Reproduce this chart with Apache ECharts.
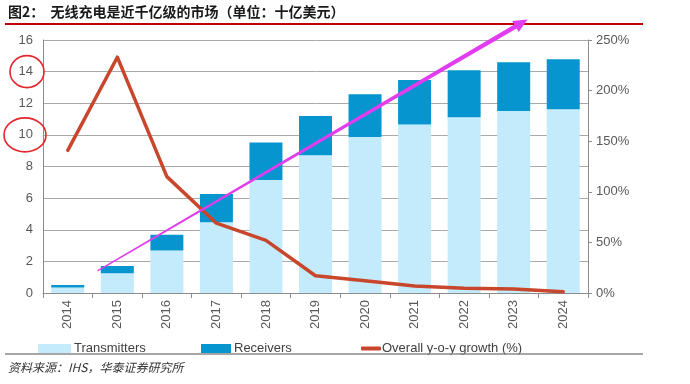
<!DOCTYPE html>
<html><head><meta charset="utf-8">
<script src="https://cdn.jsdelivr.net/npm/echarts@6/dist/echarts.min.js"></script>
<style>html,body{margin:0;padding:0;background:#fff}#c{width:690px;height:384px}</style>
</head><body><div id="c"></div>
<script>
const years = ['2014','2015','2016','2017','2018','2019','2020','2021','2022','2023','2024'];
const transmitters = [0.35,1.25,2.68,4.47,7.15,8.71,9.87,10.65,11.11,11.51,11.62];
const receivers = [0.16,0.46,1.01,1.79,2.36,2.49,2.70,2.82,2.98,3.08,3.16];
const growth = [141,233,115,69,52,17,12,7,4.6,4,1.3];
const seriesNames = ['Transmitters','Receivers','Overall y-o-y growth (%)'];
const titleText = '图2：  无线充电是近千亿级的市场（单位：十亿美元）';
const sourceText = '资料来源：IHS，华泰证券研究所';
// annotation anchors in data space: [category index, left-axis value]
const arrowFrom = [0.6, 1.4];
const arrowTo = [9.28, 17.3];
const circledTicks = [14, 10];

const FONT = 'Liberation Sans, Arial, sans-serif';
const chart = echarts.init(document.getElementById('c'));
const axisColor = '#8c8c8c';
const labelColor = '#595959';
const legendText = {fontFamily: FONT, fontSize: 13, color:'#404040'};

chart.setOption({
  animation: false,
  grid: {left: 43, right: 102, top: 40, bottom: 91, containLabel: false},
  legend: [
    {data:[{name: seriesNames[0], icon:'rect'}], left: 33, top: 337, itemWidth: 33, itemHeight: 9, itemGap: 0,
     textStyle: Object.assign({padding:[0,0,0,-2]}, legendText)},
    {data:[{name: seriesNames[1], icon:'rect'}], left: 196, top: 337, itemWidth: 30, itemHeight: 9, itemGap: 0,
     textStyle: Object.assign({padding:[0,0,0,-2]}, legendText)},
    {data:[{name: seriesNames[2], icon:'roundRect'}], left: 356, top: 337, itemWidth: 20, itemHeight: 4, itemGap: 0,
     itemStyle:{color:'#c8462b', borderWidth:0},
     textStyle: Object.assign({padding:[0,0,0,-4]}, legendText)}
  ],
  xAxis: {
    type: 'category', data: years,
    axisLine: {lineStyle:{color: axisColor, width: 1}},
    axisTick: {show: true, length: 5, lineStyle:{color: axisColor}},
    axisLabel: {rotate: 90, margin: 7, fontFamily: FONT, fontSize: 13, color: labelColor}
  },
  yAxis: [
    {type:'value', min:0, max:16, interval:2,
     axisLine:{show:true, lineStyle:{color: axisColor}},
     axisTick:{show:false},
     axisLabel:{margin: 10, fontFamily: FONT, fontSize: 13, color: labelColor},
     splitLine:{show:true, lineStyle:{color:'#a9a9a9', width:1}}},
    {type:'value', min:0, max:250, interval:50, position:'right',
     axisLine:{show:true, lineStyle:{color: axisColor}},
     axisTick:{show:true, length:4, inside:false, lineStyle:{color: axisColor}},
     axisLabel:{margin: 8, fontFamily: FONT, fontSize: 13, color: labelColor, formatter:'{value}%'},
     splitLine:{show:false}}
  ],
  series: [
    {name: seriesNames[0], type:'bar', stack:'t', data: transmitters, barWidth: 33,
     itemStyle:{color:'#c4ebfb'}},
    {name: seriesNames[1], type:'bar', stack:'t', data: receivers, barWidth: 33,
     itemStyle:{color:'#0795cf'}},
    {name: seriesNames[2], type:'line', yAxisIndex:1, data: growth, symbol:'none', showSymbol:false,
     lineStyle:{color:'#c8462b', width:3.5, cap:'round', join:'round'},
     itemStyle:{color:'#c8462b'}, z: 5}
  ]
});

function px(idx, val) {
  const i0 = Math.floor(idx), f = idx - i0;
  const a = chart.convertToPixel({xAxisIndex:0, yAxisIndex:0}, [i0, val]);
  const b = chart.convertToPixel({xAxisIndex:0, yAxisIndex:0}, [Math.min(i0+1, years.length-1), val]);
  const step = (i0+1 <= years.length-1) ? (b[0]-a[0]) : 0;
  return [a[0] + f*step, a[1]];
}

const p0 = px(arrowFrom[0], arrowFrom[1]);
const p1 = px(arrowTo[0], arrowTo[1]);
const dx = p1[0]-p0[0], dy = p1[1]-p0[1];
const L = Math.hypot(dx, dy);
const ux = dx/L, uy = dy/L, nx = -uy, ny = ux;
const headLen = 14, headW = 6.5;
const hb = [p1[0]-ux*headLen, p1[1]-uy*headLen];
const w0 = 0.6, w1 = 2.2;
const arrowPts = [
  [p0[0]+nx*w0, p0[1]+ny*w0],
  [hb[0]+nx*w1, hb[1]+ny*w1],
  [hb[0]+nx*headW, hb[1]+ny*headW],
  [p1[0], p1[1]],
  [hb[0]-nx*headW, hb[1]-ny*headW],
  [hb[0]-nx*w1, hb[1]-ny*w1],
  [p0[0]-nx*w0, p0[1]-ny*w0]
];

const gridLeft = 43;
const circles = circledTicks.map((v, k) => {
  const y = chart.convertToPixel({yAxisIndex:0}, v);
  return {type:'ellipse', z: 20,
    shape:{cx: gridLeft - (k === 0 ? 16 : 18), cy: y, rx: k === 0 ? 17 : 21, ry: k === 0 ? 16 : 17},
    style:{fill:'none', stroke:'#e3262b', lineWidth:1.6}};
});

chart.setOption({
  graphic: [
    {type:'text', left: 8, top: 5, z: 10,
     style:{text: titleText, fontFamily:'Noto Sans CJK SC', fontWeight:'bold', fontSize:14, fill:'#1a1a1a'}},
    {type:'line', z: 10, shape:{x1:5, y1:24, x2:643, y2:24}, style:{stroke:'#c00000', lineWidth:2}},
    {type:'line', z: 10, shape:{x1:5, y1:354, x2:643, y2:354}, style:{stroke:'#8a8a8a', lineWidth:1.5}},
    {type:'text', left: 8, top: 361, z: 10,
     style:{text: sourceText, fontFamily:'Noto Sans CJK SC', fontStyle:'italic', fontSize:12, fill:'#333'}},
    {type:'polygon', z: 30, shape:{points: arrowPts}, style:{fill:'#e23cf0'}},
    ...circles
  ]
});
</script>
</body></html>
